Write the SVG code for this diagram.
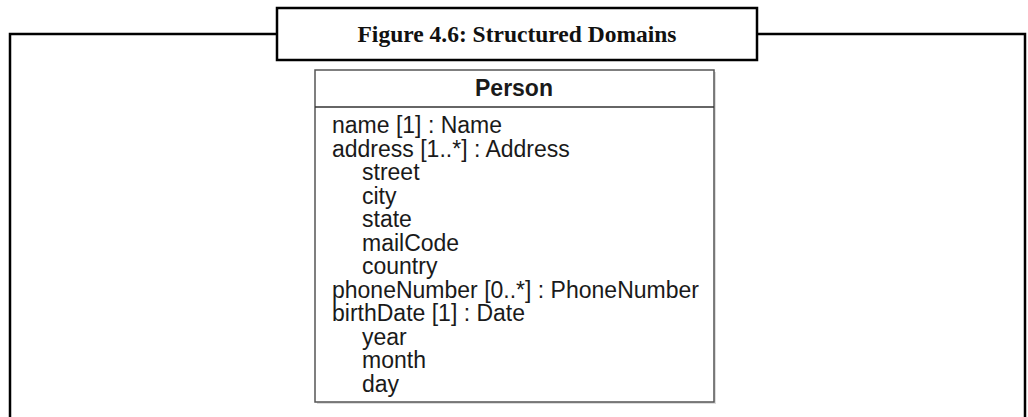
<svg xmlns="http://www.w3.org/2000/svg" width="1028" height="417" viewBox="0 0 1028 417">
<style>
.frame{fill:none;stroke:#000;stroke-width:2.5}
.cap{font-family:"Liberation Serif",serif;font-weight:bold;font-size:23.5px;fill:#111}
.attr{font-family:"Liberation Sans",Arial,sans-serif;font-size:23px;fill:#1a1a1a}
.title{font-family:"Liberation Sans",Arial,sans-serif;font-size:23px;font-weight:bold;fill:#1a1a1a}
</style>
<rect width="1028" height="417" fill="#fff"/>
<g id="frame">
<path class="frame" d="M10,417 V34 H277 M757,34 H1025 V417"/>
</g>
<g id="caption">
<rect x="277" y="8" width="480" height="52" fill="#fff" stroke="#000" stroke-width="2.5"/>
<text class="cap" x="517" y="42" text-anchor="middle">Figure 4.6: Structured Domains</text>
</g>
<g id="person">
<rect x="317" y="72" width="399" height="332" fill="#ddd" stroke="none"/>
<rect x="315" y="70" width="399" height="332" fill="#fff" stroke="#555" stroke-width="1.5"/>
<line x1="315" y1="107" x2="714" y2="107" stroke="#333" stroke-width="1.5"/>
<text class="title" x="514" y="96" text-anchor="middle">Person</text>
<text class="attr" x="332" y="133">name [1] : Name</text>
<text class="attr" x="332" y="156.5">address [1..*] : Address</text>
<text class="attr" x="362" y="180">street</text>
<text class="attr" x="362" y="203.5">city</text>
<text class="attr" x="362" y="227">state</text>
<text class="attr" x="362" y="250.5">mailCode</text>
<text class="attr" x="362" y="274">country</text>
<text class="attr" x="332" y="297.5">phoneNumber [0..*] : PhoneNumber</text>
<text class="attr" x="332" y="321">birthDate [1] : Date</text>
<text class="attr" x="362" y="344.5">year</text>
<text class="attr" x="362" y="368">month</text>
<text class="attr" x="362" y="391.5">day</text>
</g>
</svg>
